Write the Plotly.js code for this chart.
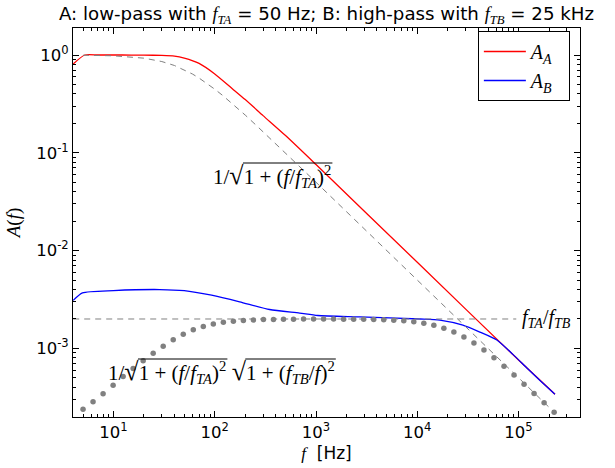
<!DOCTYPE html>
<html>
<head>
<meta charset="utf-8">
<script src="https://cdn.plot.ly/plotly-3.0.1.min.js"></script>
<style>html,body{margin:0;padding:0;background:#fff;}#chart{width:615px;height:468px;}</style>
</head>
<body>
<div id="chart"></div>
<script>
// ---- data ----
const fA = [4, 5.2, 7, 10, 15, 20, 30, 40, 50, 70, 100, 150, 200, 300, 500, 1000, 10000, 100000, 229000];
const aA = [0.81, 1.0, 1.0, 1.0, 0.999, 0.997, 0.99, 0.975, 0.93, 0.82, 0.64, 0.45, 0.35, 0.24, 0.15, 0.0758, 0.0076, 0.00076, 0.00034];

const fB = [4, 4.94, 10, 28.5, 50, 93, 176, 348, 689, 1040, 2700, 10600, 16700, 28200, 41500, 61100, 88000, 121000, 163000, 229000];
const aB = [0.0031, 0.0037, 0.0039, 0.0040, 0.0039, 0.0035, 0.0030, 0.0025, 0.0023, 0.00217, 0.0021, 0.0020, 0.00195, 0.00173, 0.00147, 0.00122, 0.00087, 0.00063, 0.00047, 0.00034];

const fLow = [5, 10, 20, 30, 40, 50, 60, 70, 80, 100, 120, 150, 200, 250, 300, 400, 500, 700, 1000, 10000, 100000, 219000];
const aLow = [0.995, 0.981, 0.928, 0.857, 0.781, 0.707, 0.640, 0.581, 0.530, 0.447, 0.385, 0.316, 0.243, 0.196, 0.164, 0.124, 0.0995, 0.0712, 0.05, 0.005, 0.0005, 0.000229];

const fDots = [5.00, 6.28, 7.89, 9.91, 12.45, 15.63, 19.63, 24.65, 30.96, 38.89, 48.85, 61.35, 77.06, 96.79, 121.6, 152.7, 191.8, 240.9, 302.5, 380.0, 477.3, 599.5, 753.0, 945.7, 1188, 1492, 1874, 2354, 2956, 3713, 4663, 5857, 7357, 9240, 11605, 14576, 18307, 22994, 28880, 36273, 45559, 57222, 71871, 90270, 113380, 142405, 178861, 224650];
const aDots = [2.39e-4, 2.85e-4, 3.44e-4, 4.2e-4, 5.15e-4, 6.25e-4, 7.5e-4, 8.95e-4, 1.055e-3, 1.228e-3, 1.398e-3, 1.550e-3, 1.678e-3, 1.777e-3, 1.849e-3, 1.901e-3, 1.935e-3, 1.957e-3, 1.972e-3, 1.981e-3, 1.988e-3, 1.992e-3, 1.994e-3, 1.995e-3, 1.995e-3, 1.9945e-3, 1.993e-3, 1.990e-3, 1.984e-3, 1.976e-3, 1.964e-3, 1.945e-3, 1.917e-3, 1.873e-3, 1.810e-3, 1.723e-3, 1.609e-3, 1.469e-3, 1.307e-3, 1.134e-3, 9.63e-4, 8.02e-4, 6.59e-4, 5.36e-4, 4.30e-4, 3.47e-4, 2.78e-4, 2.22e-4];

const fRatio = [4, 95000];
const aRatio = [0.002, 0.002];

const xTickVals = [10, 100, 1000, 10000, 100000];
const xTickText = ['10<sup>1</sup>', '10<sup>2</sup>', '10<sup>3</sup>', '10<sup>4</sup>', '10<sup>5</sup>'];
const yTickVals = [1, 0.1, 0.01, 0.001];
const yTickText = ['10<sup>0</sup>', '10<sup>-1</sup>', '10<sup>-2</sup>', '10<sup>-3</sup>'];

// ---- minor tick positions (2..9 in each decade) ----
function minors(lo, hi) {
  const out = [];
  for (let e = lo; e <= hi; e++) for (let m = 2; m <= 9; m++) out.push(m * Math.pow(10, e));
  return out;
}

const SERIF = "'Liberation Serif', 'DejaVu Serif', serif";
const SANS = "'DejaVu Sans', sans-serif";
const gray = '#808080';
const NB = '\u00a0';
const SP = '\u2005';
const ANN = 21;
const RAD = 26;
const SQRT = '<span style="font-size:' + RAD + 'px">√</span>';
const root1 = '1/' + SQRT + '1' + SP + '+' + SP + '(<i>f</i>/<i>f</i><sub><i>TA</i></sub>)<sup>2</sup>';
const root2 = SQRT + '1' + SP + '+' + SP + '(<i>f</i><sub><i>TB</i></sub>/<i>f</i>)<sup>2</sup>';

// plot-area pixel helpers (margins below) used only for placing text decorations
const PL = 73, PT = 28, PW = 507, PH = 389;
const px = v => (v - PL) / PW;
const py = v => (PT + PH - v) / PH;
function overline(x0, x1, y) {
  return {type: 'line', xref: 'paper', yref: 'paper', x0: px(x0), x1: px(x1), y0: py(y), y1: py(y), line: {color: '#000', width: 1}};
}

const traces = [
  {x: fA, y: aA, mode: 'lines', name: '<i>A</i><sub><i>A</i></sub>\u2002', line: {color: '#ff0000', width: 1.3, shape: 'spline', smoothing: 0.6}},
  {x: fB, y: aB, mode: 'lines', name: '<i>A</i><sub><i>B</i></sub>\u2002', line: {color: '#0000ff', width: 1.3, shape: 'spline', smoothing: 0.6}},
  {x: fLow, y: aLow, mode: 'lines', showlegend: false, line: {color: gray, width: 1, dash: '6px,5px'}},
  {x: fRatio, y: aRatio, mode: 'lines', showlegend: false, line: {color: gray, width: 1, dash: '6px,5px'}},
  {x: fDots, y: aDots, mode: 'markers', showlegend: false, marker: {color: gray, size: 5.5}}
];

const axisCommon = {
  type: 'log', showgrid: false, zeroline: false, showline: true, linecolor: '#000', linewidth: 1,
  mirror: 'ticks', ticks: 'inside', ticklen: 6, tickwidth: 1, tickcolor: '#000',
  tickfont: {family: SANS, size: 16.5, color: '#000'}, tickmode: 'array'
};

const layout = {
  width: 615, height: 468,
  margin: {l: PL, r: 615 - PL - PW, t: PT, b: 468 - PT - PH},
  paper_bgcolor: '#fff', plot_bgcolor: '#fff',
  font: {family: SANS, color: '#000'},
  title: {
    text: "A: low-pass with <span style=\"font-family:'Liberation Serif'\"><i>f</i><sub><i>TA</i></sub></span> = 50 Hz; B: high-pass with <span style=\"font-family:'Liberation Serif'\"><i>f</i><sub><i>TB</i></sub></span> = 25 kHz",
    font: {family: SANS, size: 18.2, color: '#000'},
    x: 0.5, xref: 'paper', xanchor: 'center', y: 1 - 14 / 468, yref: 'container', yanchor: 'middle'
  },
  xaxis: Object.assign({}, axisCommon, {
    range: [0.6, 5.607], tickvals: xTickVals, ticktext: xTickText,
    minor: {tickmode: 'array', tickvals: minors(0, 5), ticks: 'inside', ticklen: 3, tickwidth: 1, tickcolor: '#000', showgrid: false},
    title: {text: "<span style=\"font-family:'Liberation Serif'\"><i>f</i></span>  [Hz]", font: {family: SANS, size: 17, color: '#000'}, standoff: 6}
  }),
  yaxis: Object.assign({}, axisCommon, {
    range: [-3.701, 0.276], tickvals: yTickVals, ticktext: yTickText,
    minor: {tickmode: 'array', tickvals: minors(-4, 0), ticks: 'inside', ticklen: 3, tickwidth: 1, tickcolor: '#000', showgrid: false},
    title: {text: '<i>A</i>(<i>f</i>)', font: {family: SERIF, size: 19, color: '#000'}, standoff: 10}
  }),
  legend: {
    x: 0.98, xanchor: 'right', y: py(31), yanchor: 'top',
    bordercolor: '#000', borderwidth: 1, bgcolor: '#fff',
    font: {family: SERIF, size: 20, color: '#000'},
    itemwidth: 42
  },
  annotations: [
    {xref: 'paper', yref: 'paper', x: px(211), y: py(176), xanchor: 'left', yanchor: 'middle', showarrow: false,
     text: root1, font: {family: SERIF, size: ANN, color: '#000'}},
    {xref: 'paper', yref: 'paper', x: px(106), y: py(372), xanchor: 'left', yanchor: 'middle', showarrow: false,
     text: root1 + NB + root2, font: {family: SERIF, size: ANN, color: '#000'}},
    {xref: 'paper', yref: 'paper', x: px(520), y: py(318), xanchor: 'left', yanchor: 'middle', showarrow: false,
     text: '<i>f</i><sub><i>TA</i></sub>/<i>f</i><sub><i>TB</i></sub>', font: {family: SERIF, size: 20, color: '#000'}}
  ],
  // radical overlines over the square-root arguments
  shapes: [
    overline(243, 332.4, 163),
    overline(138, 227.4, 359),
    overline(245.3, 335.8, 359)
  ]
};

Plotly.newPlot('chart', traces, layout, {displayModeBar: false, staticPlot: true});
</script>
</body>
</html>
